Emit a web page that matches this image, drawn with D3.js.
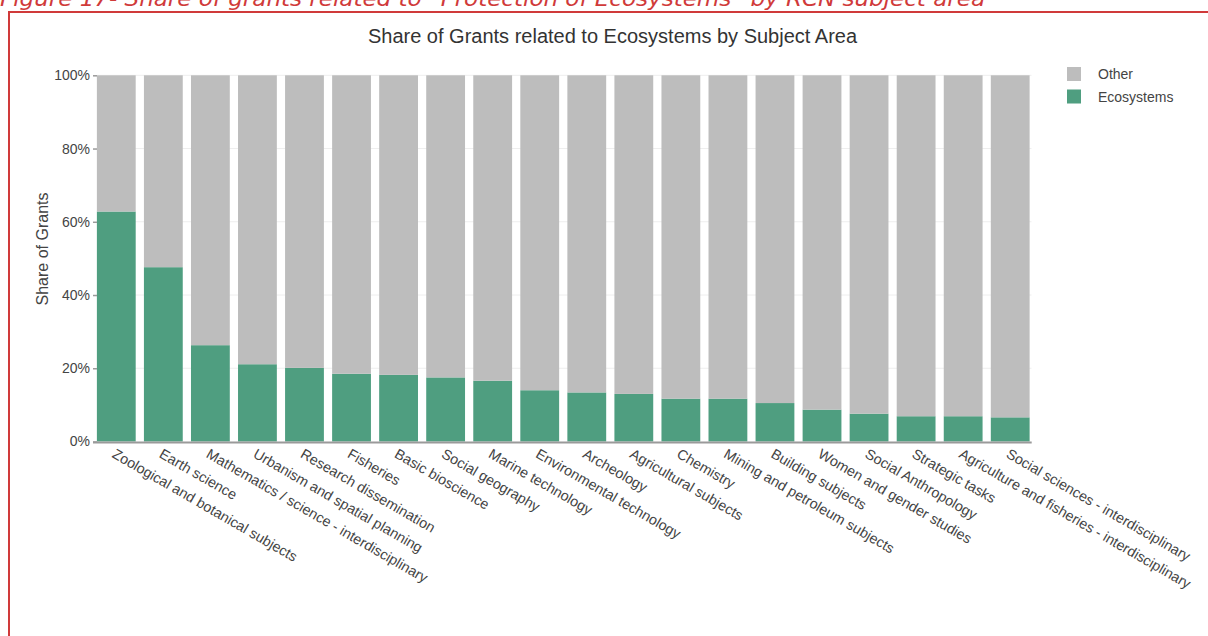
<!DOCTYPE html>
<html>
<head>
<meta charset="utf-8">
<script src="https://cdn.jsdelivr.net/npm/d3@7"></script>
<style>
  html, body { margin: 0; padding: 0; background: #fff; }
  svg { display: block; }
</style>
</head>
<body>
<svg id="chart" width="1208" height="636"></svg>
<script>
// Subject areas, ordered by share of ecosystem-related grants
const subjects = [
  "Zoological and botanical subjects",
  "Earth science",
  "Mathematics / science - interdisciplinary",
  "Urbanism and spatial planning",
  "Research dissemination",
  "Fisheries",
  "Basic bioscience",
  "Social geography",
  "Marine technology",
  "Environmental technology",
  "Archeology",
  "Agricultural subjects",
  "Chemistry",
  "Mining and petroleum subjects",
  "Building subjects",
  "Women and gender studies",
  "Social Anthropology",
  "Strategic tasks",
  "Agriculture and fisheries - interdisciplinary",
  "Social sciences - interdisciplinary"
];

// Share of grants related to ecosystems (percent)
const ecosystems = [62.8, 47.6, 26.3, 21.1, 20.1, 18.5, 18.2, 17.5, 16.6, 14.0,
                    13.4, 13.0, 11.7, 11.7, 10.5, 8.7, 7.6, 6.9, 6.9, 6.6];

// Remaining share of grants
const other = ecosystems.map(v => 100 - v);

const yTicks = [0, 20, 40, 60, 80, 100];
const seriesNames = ["Other", "Ecosystems"];
const seriesColors = { Other: "#bdbdbd", Ecosystems: "#4f9e80" };

const svg = d3.select("#chart");
const font = "'Liberation Sans', Arial, Helvetica, sans-serif";

// Report caption and frame
svg.append("text")
  .attr("x", 0).attr("y", 6)
  .attr("font-family", "'DejaVu Sans', sans-serif")
  .attr("font-style", "italic")
  .attr("font-weight", 300)
  .attr("font-size", 22)
  .attr("fill", "#d03a3a")
  .attr("textLength", 985)
  .attr("lengthAdjust", "spacingAndGlyphs")
  .text("Figure 17- Share of grants related to \u201cProtection of Ecosystems\u201d by RCN subject area");

svg.append("path")
  .attr("d", "M9,640 V12 H1212")
  .attr("fill", "none")
  .attr("stroke", "#d03a3a")
  .attr("stroke-width", 2);

// Scales
const x = d3.scaleBand()
  .domain(subjects)
  .range([95, 1031.5])
  .paddingInner(0.175)
  .paddingOuter(0.04);

const y = d3.scaleLinear()
  .domain([0, 100])
  .range([441.5, 75.3]);

// Gridlines
svg.append("g")
  .selectAll("line")
  .data(yTicks.filter(t => t > 0))
  .join("line")
  .attr("x1", 97).attr("x2", 1031.5)
  .attr("y1", d => y(d)).attr("y2", d => y(d))
  .attr("stroke", "#eeeeee")
  .attr("stroke-width", 1);

// Stacked bars
const rows = subjects.map((s, i) => ({ subject: s, Ecosystems: ecosystems[i], Other: other[i] }));
const stacked = d3.stack().keys(["Ecosystems", "Other"])(rows);

svg.append("g")
  .selectAll("g")
  .data(stacked)
  .join("g")
  .attr("fill", d => seriesColors[d.key])
  .selectAll("rect")
  .data(d => d)
  .join("rect")
  .attr("x", d => x(d.data.subject))
  .attr("width", x.bandwidth())
  .attr("y", d => y(d[1]))
  .attr("height", d => y(d[0]) - y(d[1]));

// Y axis
const yAxis = d3.axisLeft(y)
  .tickValues(yTicks)
  .tickFormat(d => d + "%")
  .tickSize(4)
  .tickPadding(3);

const yg = svg.append("g")
  .attr("transform", "translate(97,0)")
  .call(yAxis);
yg.select(".domain").remove();
yg.selectAll(".tick line").attr("stroke", "#9a9a9a").attr("stroke-width", 1.5);
yg.selectAll(".tick text")
  .attr("font-family", font)
  .attr("font-size", 14)
  .attr("fill", "#444");

// X axis
const xAxis = d3.axisBottom(x).tickSize(0).tickFormat("");
const xg = svg.append("g")
  .attr("transform", "translate(0,442)")
  .call(xAxis);
xg.select(".domain")
  .attr("d", "M93,0.5H1031.7")
  .attr("stroke", "#9a9a9a")
  .attr("stroke-width", 2);

svg.append("g")
  .selectAll("text")
  .data(subjects)
  .join("text")
  .attr("transform", d => `translate(${x(d) + x.bandwidth() / 2},448) rotate(30)`)
  .attr("dy", "0.71em")
  .attr("font-family", font)
  .attr("font-size", 14.3)
  .attr("fill", "#444")
  .text(d => d);

// Axis title
svg.append("text")
  .attr("transform", "translate(48,249) rotate(-90)")
  .attr("text-anchor", "middle")
  .attr("font-family", font)
  .attr("font-size", 16)
  .attr("fill", "#444")
  .text("Share of Grants");

// Chart title
svg.append("text")
  .attr("x", 612.5).attr("y", 43)
  .attr("text-anchor", "middle")
  .attr("font-family", font)
  .attr("font-size", 20)
  .attr("fill", "#333")
  .text("Share of Grants related to Ecosystems by Subject Area");

// Legend
const legend = svg.append("g")
  .selectAll("g")
  .data(seriesNames)
  .join("g")
  .attr("transform", (d, i) => `translate(1067,${67 + i * 22.5})`);
legend.append("rect")
  .attr("width", 14).attr("height", 14)
  .attr("fill", d => seriesColors[d]);
legend.append("text")
  .attr("x", 31).attr("y", 12)
  .attr("font-family", font)
  .attr("font-size", 14)
  .attr("fill", "#444")
  .text(d => d);
</script>
</body>
</html>
